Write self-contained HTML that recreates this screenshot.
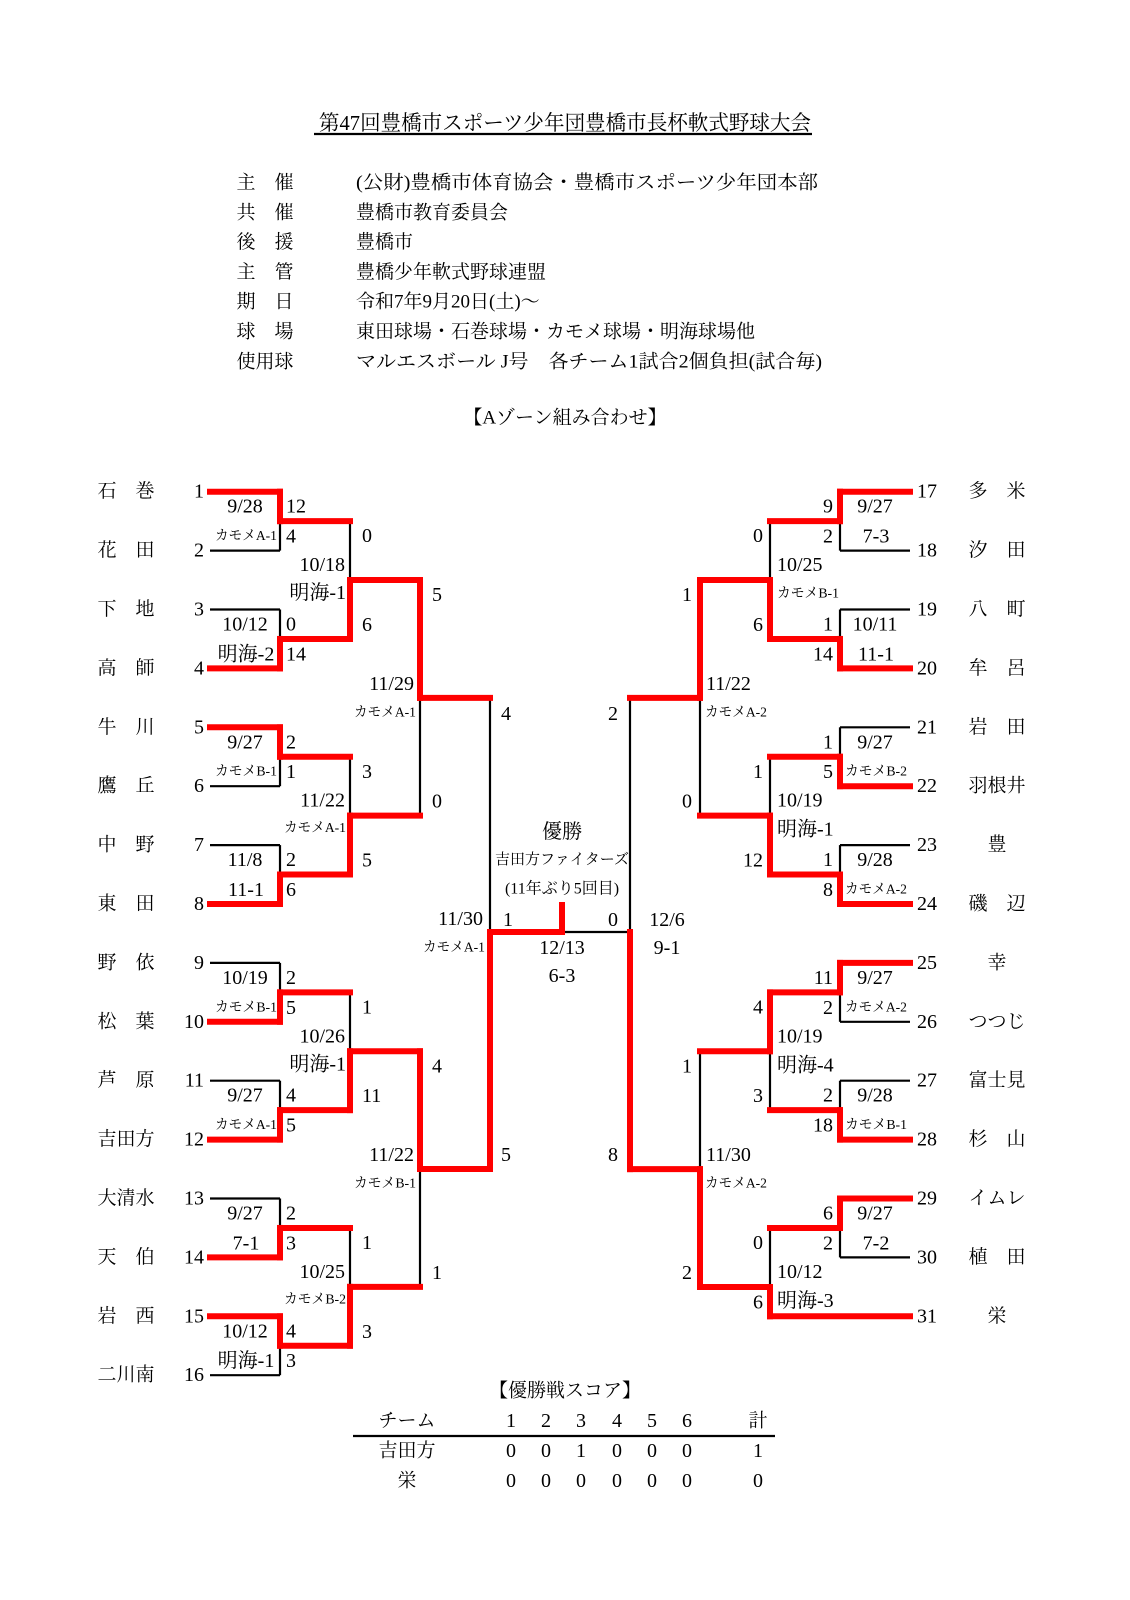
<!DOCTYPE html>
<html><head><meta charset="utf-8">
<style>
html,body{margin:0;padding:0;background:#fff;}
svg{display:block;}
text{font-family:"Liberation Serif","Noto Serif CJK JP","Noto Sans CJK JP",serif;fill:#000;dominant-baseline:central;}
</style></head>
<body>
<svg id="s" width="1130" height="1600" viewBox="0 0 1130 1600" xmlns="http://www.w3.org/2000/svg">
<g id="k"></g><g id="r"></g><g id="t"></g>
</svg>
<script>
const NS="http://www.w3.org/2000/svg";
const gK=document.getElementById('k'),gR=document.getElementById('r'),gT=document.getElementById('t');
function L(x1,y1,x2,y2,red){const e=document.createElementNS(NS,'line');e.setAttribute('x1',x1);e.setAttribute('y1',y1);e.setAttribute('x2',x2);e.setAttribute('y2',y2);
 e.setAttribute('stroke',red?'#ff0000':'#000');e.setAttribute('stroke-width',red?6:2.2);e.setAttribute('stroke-linecap',red?'square':'butt');(red?gR:gK).appendChild(e);}
function T(x,y,s,a,sz,tl){const e=document.createElementNS(NS,'text');e.setAttribute('x',x);e.setAttribute('y',y);e.setAttribute('text-anchor',a||'start');e.setAttribute('font-size',sz||20);
 if(tl){e.setAttribute('textLength',tl);e.setAttribute('lengthAdjust','spacingAndGlyphs');}e.textContent=s;gT.appendChild(e);}
function vs(s){return /カモメ/.test(s)?14:20;}
const Y=n=>491.7+(n-1)*58.9;

// header
T(565,123,'第47回豊橋市スポーツ少年団豊橋市長杯軟式野球大会','middle',21,492);
L(314,134,812,134,false);
const hd=[['主　催','(公財)豊橋市体育協会・豊橋市スポーツ少年団本部',462],['共　催','豊橋市教育委員会',0],['後　援','豊橋市',0],['主　管','豊橋少年軟式野球連盟',0],['期　日','令和7年9月20日(土)～',0],['球　場','東田球場・石巻球場・カモメ球場・明海球場他',0],['使用球','マルエスボール J号　各チーム1試合2個負担(試合毎)',466]];
hd.forEach((h,i)=>{const y=183+i*29.8;T(265,y,h[0],'middle',19);T(356,y,h[1],'start',19,h[2]||null);});
T(565,418,'【Aゾーン組み合わせ】','middle',19);

function M(x,xn,yt,yb,topWin,mid){const m=mid||(yt+yb)/2;L(x,yt,x,m,topWin);L(x,m,x,yb,!topWin);L(x,m,xn,m,true);return m;}

// LEFT
const lnames=['石　巻','花　田','下　地','高　師','牛　川','鷹　丘','中　野','東　田','野　依','松　葉','芦　原','吉田方','大清水','天　伯','岩　西','二川南'];
const lR1=[['9/28','カモメA-1','12','4',1],['10/12','明海-2','0','14',0],['9/27','カモメB-1','2','1',1],['11/8','11-1','2','6',0],['10/19','カモメB-1','2','5',0],['9/27','カモメA-1','4','5',0],['9/27','7-1','2','3',0],['10/12','明海-1','4','3',1]];
for(let i=0;i<16;i++){T(204,Y(i+1),String(i+1),'end');T(126,Y(i+1),lnames[i],'middle',19);}
const lm1=[];
lR1.forEach((m,i)=>{const a=Y(2*i+1),b=Y(2*i+2);L(210,a,280,a,m[4]==1);L(210,b,280,b,m[4]==0);lm1.push(M(280,350,a,b,m[4]==1));
 T(245,a+15,m[0],'middle');T(246,b-14,m[1],'middle',vs(m[1]),vs(m[1])==14?62:null);T(286,a+15,m[2]);T(286,b-14,m[3]);});
const lR2=[['10/18','明海-1','0','6',0],['11/22','カモメA-1','3','5',0],['10/26','明海-1','1','11',0],['10/25','カモメB-2','1','3',0]];
const lm2=[];
lR2.forEach((m,i)=>{const a=lm1[2*i],b=lm1[2*i+1];const md=M(350,420,a,b,m[4]==1);lm2.push(md);
 T(345,md-15,m[0],'end');T(346,md+13,m[1],'end',vs(m[1]),vs(m[1])==14?62:null);T(362,a+15,m[2]);T(362,b-14,m[3]);});
const lR3=[['11/29','カモメA-1','5','0',1],['11/22','カモメB-1','4','1',1]];
const lm3=[];
lR3.forEach((m,i)=>{const a=lm2[2*i],b=lm2[2*i+1];const md=M(420,490,a,b,m[4]==1);lm3.push(md);
 T(414,md-14,m[0],'end');T(416,md+15,m[1],'end',14,62);T(432,a+15,m[2]);T(432,b-14,m[3]);});
L(490,lm3[0],490,932,false);L(490,932,490,lm3[1],true);
T(483,919,'11/30','end');T(485,948,'カモメA-1','end',14,62);T(501,lm3[0]+16,'4');T(501,lm3[1]-14,'5');
L(490,932,562,932,true);L(562,905,562,932,true);L(562,932,630,932,false);

// RIGHT
const rnames=['多　米','汐　田','八　町','牟　呂','岩　田','羽根井','豊','磯　辺','幸','つつじ','富士見','杉　山','イムレ','植　田','栄'];
for(let i=0;i<15;i++){T(917,Y(i+1),String(i+17),'start');T(997,Y(i+1),rnames[i],'middle',19);}
const rR1=[['9/27','7-3','9','2',1],['10/11','11-1','1','14',0],['9/27','カモメB-2','1','5',0],['9/28','カモメA-2','1','8',0],['9/27','カモメA-2','11','2',1],['9/28','カモメB-1','2','18',0],['9/27','7-2','6','2',1]];
const rm1=[];
rR1.forEach((m,i)=>{const a=Y(2*i+1),b=Y(2*i+2);L(840,a,910,a,m[4]==1);L(840,b,910,b,m[4]==0);rm1.push(M(840,770,a,b,m[4]==1));
 T(875,a+15,m[0],'middle');T(876,b-14,m[1],'middle',vs(m[1]),vs(m[1])==14?62:null);T(833,a+15,m[2],'end');T(833,b-14,m[3],'end');});
L(770,Y(15),910,Y(15),true);
const rR2=[['10/25','カモメB-1','0','6',0],['10/19','明海-1','1','12',0],['10/19','明海-4','4','3',1],['10/12','明海-3','0','6',0]];
const rm2=[];
rR2.forEach((m,i)=>{const a=rm1[2*i];let b,md;
 if(i<3){b=rm1[2*i+1];md=M(770,700,a,b,m[4]==1);}else{b=Y(15);md=1287;L(770,a,770,md,false);L(770,md,770,b,true);L(770,md,700,md,true);}
 rm2.push(md);T(777,md-15,m[0],'start');T(777,md+14,m[1],'start',vs(m[1]),vs(m[1])==14?62:null);T(763,a+15,m[2],'end');T(763,b-14,m[3],'end');});
const rR3=[['11/22','カモメA-2','1','0',1],['11/30','カモメA-2','1','2',0]];
const rm3=[];
rR3.forEach((m,i)=>{const a=rm2[2*i],b=rm2[2*i+1];const md=M(700,630,a,b,m[4]==1);rm3.push(md);
 T(706,md-14,m[0],'start');T(705,md+15,m[1],'start',14,62);T(692,a+15,m[2],'end');T(692,b-14,m[3],'end');});
L(630,rm3[0],630,932,false);L(630,932,630,rm3[1],true);
T(613,rm3[0]+16,'2','middle');T(613,rm3[1]-14,'8','middle');
T(667,920,'12/6','middle');T(667,948,'9-1','middle');

// final
T(562,832,'優勝','middle',20);
T(562,860,'吉田方ファイターズ','middle',15);
T(562,889,'(11年ぶり5回目)','middle',16);
T(508,920,'1','middle');T(613,920,'0','middle');
T(562,948,'12/13','middle');T(562,976,'6-3','middle');

// score table
T(565,1391,'【優勝戦スコア】','middle',19);
const cx=[511,546,581,617,652,687];
T(407,1421,'チーム','middle',19);['1','2','3','4','5','6'].forEach((c,i)=>T(cx[i],1421,c,'middle'));T(758,1421,'計','middle',19);
L(353,1436,775,1436,false);
T(407,1451,'吉田方','middle',19);['0','0','1','0','0','0'].forEach((c,i)=>T(cx[i],1451,c,'middle'));T(758,1451,'1','middle');
T(407,1481,'栄','middle',19);['0','0','0','0','0','0'].forEach((c,i)=>T(cx[i],1481,c,'middle'));T(758,1481,'0','middle');
</script>
</body></html>
